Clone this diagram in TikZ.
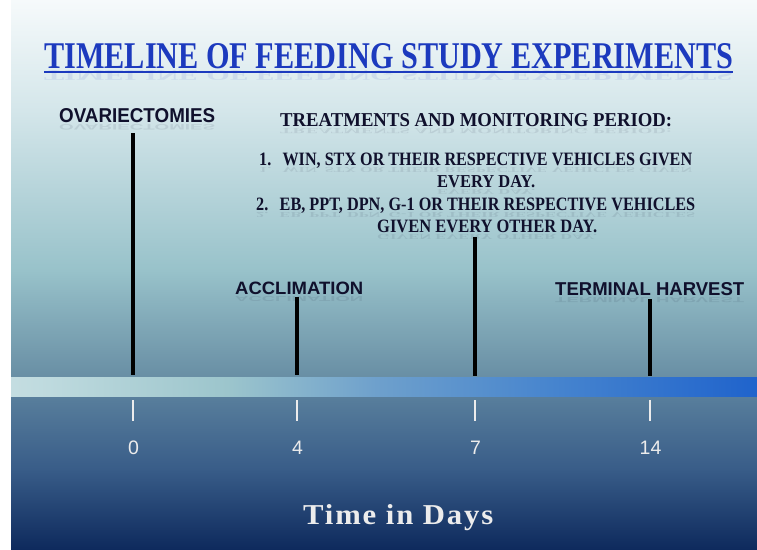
\documentclass[tikz,border=0pt]{standalone}
\usepackage{fontspec}
\usepackage{graphicx}
\setmainfont{Liberation Serif}
\newfontfamily\labelsans{Liberation Sans}
\newfontfamily\spacedserif{Liberation Serif}[LetterSpace=6]

\definecolor{titleblue}{RGB}{28,58,190}
\definecolor{inkdark}{RGB}{16,16,44}
\definecolor{skytop}{RGB}{246,250,251}
\definecolor{skymid}{RGB}{212,230,234}
\definecolor{skylow}{RGB}{152,194,202}
\definecolor{skybase}{RGB}{104,142,164}
\definecolor{deeptop}{RGB}{88,126,156}
\definecolor{deepmid}{RGB}{56,92,136}
\definecolor{deepbase}{RGB}{14,42,93}
\definecolor{axiswhite}{RGB}{236,236,236}
\definecolor{rampA}{RGB}{226,237,240}
\definecolor{rampB}{RGB}{190,218,222}
\definecolor{rampC}{RGB}{156,197,204}
\definecolor{rampD}{RGB}{110,160,204}
\definecolor{rampE}{RGB}{70,132,206}
\definecolor{rampF}{RGB}{30,98,204}
\definecolor{rampG}{RGB}{14,84,204}

% colour ramp of the time axis, light on the left to strong blue on the right
\pgfdeclarehorizontalshading{axisramp}{100bp}{%
  color(0bp)=(rampA);
  color(25bp)=(rampA);
  color(40bp)=(rampB);
  color(52bp)=(rampC);
  color(62bp)=(rampD);
  color(74bp)=(rampE);
  color(88bp)=(rampF);
  color(100bp)=(rampG);
  color(125bp)=(rampG)}

\newcommand\fitbox[3]{\resizebox{#1pt}{#2pt}{#3}}
% text with a faint, flattened mirror copy beneath it
\newcommand\headline[7]{%
  \node[headtext, opacity=0.09] at (#2,#3+2) {\scalebox{1}[-0.4]{\fitbox{#4}{#5}{#6#7}}};
  \node[headtext] (#1) at (#2,#3) {\fitbox{#4}{#5}{#6#7}};
}

\tikzset{
  headtext/.style={anchor=base west, inner sep=0pt, text=inkdark},
  eventbar/.style={line width=4.2pt, black},
  axistick/.style={line width=1.2pt, axiswhite},
  daylabel/.style={anchor=base, inner sep=0pt, text=axiswhite,
    font=\labelsans\fontsize{19.5}{20}\selectfont},
}

\begin{document}
\begin{tikzpicture}[x=1pt, y=-1pt]
  \useasboundingbox (0,0) rectangle (757,549);

  % backdrop
  \fill[white] (0,0) rectangle (757,549);
  \shade[top color=skytop, bottom color=skymid] (11,0) rectangle (757,110.5);
  \shade[top color=skymid, bottom color=skylow] (11,110) rectangle (757,270.5);
  \shade[top color=skylow, bottom color=skybase] (11,270) rectangle (757,377.5);
  \shade[shading=axisramp] (11,377) rectangle (757,397.5);
  \shade[top color=deeptop, bottom color=deepmid] (11,397) rectangle (757,470.5);
  \shade[top color=deepmid, bottom color=deepbase] (11,470) rectangle (757,549);

  % title
  \headline{title}{44}{68}{689}{25}{\color{titleblue}\bfseries}{TIMELINE OF FEEDING STUDY EXPERIMENTS}
  \draw[titleblue, line width=2.6pt] (title.south west) ++(0,3.5) coordinate (ulstart)
        -- (title.south east |- ulstart) coordinate (ulend);

  % event labels
  \headline{ovx}{59}{122}{156}{14}{\labelsans\bfseries}{OVARIECTOMIES}
  \headline{treat}{280}{126}{392}{13}{\bfseries}{TREATMENTS AND MONITORING PERIOD:}
  \headline{itemA}{259}{165}{433}{12.5}{\bfseries}{1.\hspace{0.7em}WIN, STX OR THEIR RESPECTIVE VEHICLES GIVEN}
  \headline{itemAb}{437}{187}{98}{12}{\bfseries}{EVERY DAY.}
  \headline{itemB}{256}{210}{439}{12.5}{\bfseries}{2.\hspace{0.7em}EB, PPT, DPN, G-1 OR THEIR RESPECTIVE VEHICLES}
  \headline{itemBb}{377}{232}{220}{12.5}{\bfseries}{GIVEN EVERY OTHER DAY.}
  \headline{accl}{235}{294}{128}{12.5}{\labelsans\bfseries}{ACCLIMATION}
  \headline{harv}{555}{295}{189}{13}{\labelsans\bfseries}{TERMINAL HARVEST}

  % event bars down to the axis
  \coordinate (barA) at (133,133);  \coordinate (axA) at (133,375);
  \coordinate (barB) at (297,297);  \coordinate (axB) at (297,375);
  \coordinate (barC) at (475,237);  \coordinate (axC) at (475,376);
  \coordinate (barD) at (650,299);  \coordinate (axD) at (650,376);
  \draw[eventbar] (barA) -- (axA);
  \draw[eventbar] (barB) -- (axB);
  \draw[eventbar] (barC) -- (axC);
  \draw[eventbar] (barD) -- (axD);

  % ticks and day numbers
  \foreach \px/\d/\nm in {133/0/dayA, 297/4/dayB, 475/7/dayC, 650/14/dayD}{
    \coordinate (\nm top) at (\px,400);
    \coordinate (\nm bot) at (\px,421);
    \draw[axistick] (\nm top) -- (\nm bot);
    \node[daylabel] (\nm) at (\px+0.5,454) {\d};
  }

  % axis caption
  \node[anchor=base west, inner sep=0pt, text=axiswhite] (caption) at (303,524)
    {\fitbox{190}{20}{\spacedserif\bfseries Time in Days}};
\end{tikzpicture}
\end{document}
